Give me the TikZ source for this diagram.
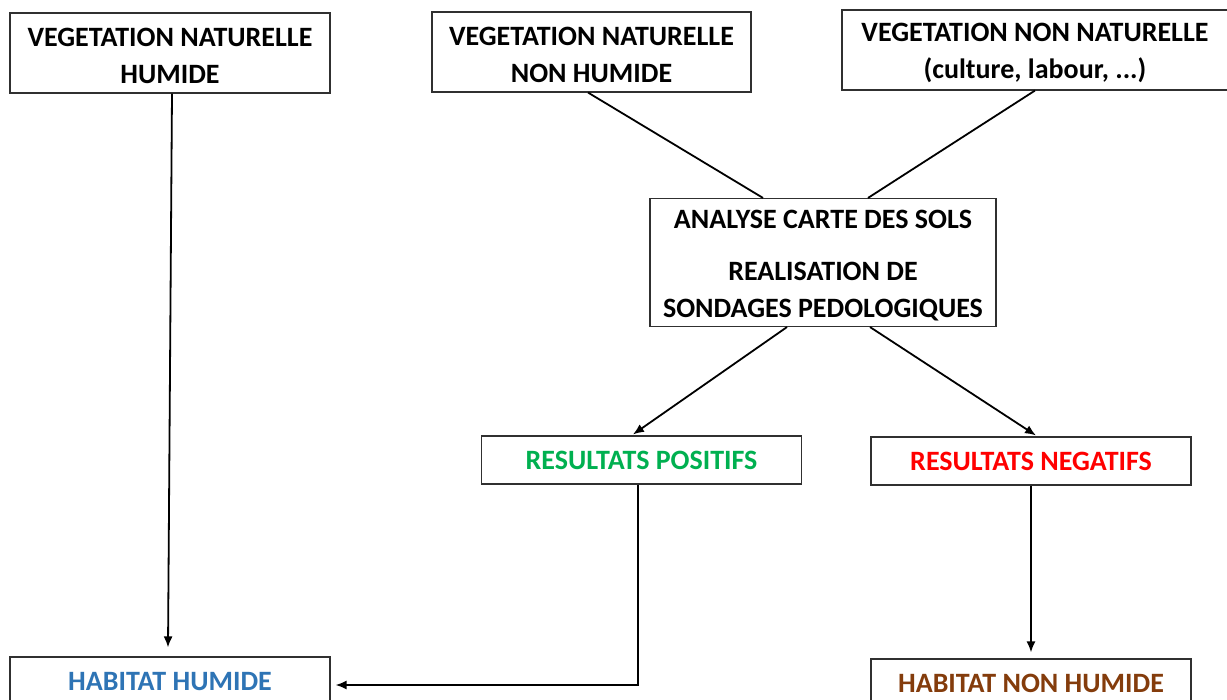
\documentclass[tikz,border=0pt]{standalone}
\usepackage{fontspec}
\setmainfont{Carlito}
\usetikzlibrary{arrows.meta}
\definecolor{cgreen}{HTML}{00B050}
\definecolor{cred}{HTML}{FF0000}
\definecolor{cblue}{HTML}{2E74B5}
\definecolor{cbrown}{HTML}{843C0C}
\definecolor{cborder}{HTML}{303030}
\newcommand{\topstrut}{\rule{0pt}{25pt}}
\begin{document}
\begin{tikzpicture}[x=1pt,y=-1pt,
  box/.style={draw=cborder, line width=1.1pt, inner sep=0pt, align=center,
    font=\fontsize{28}{37}\selectfont\bfseries},
  conn/.style={line width=1.8pt, black},
  arr/.style={conn, -{Latex[length=11pt,width=9pt]}}]
\useasboundingbox[fill=white] (0,0) rectangle (1227,700);
% top row
\node[box, minimum width=320pt, minimum height=80pt] (A) at (170,53)
  {\topstrut VEGETATION NATURELLE\\HUMIDE};
\node[box, minimum width=319pt, minimum height=80pt] (B) at (591.5,52)
  {\topstrut VEGETATION NATURELLE\\NON HUMIDE};
\node[box, minimum width=386pt, minimum height=80pt] (C) at (1035,50)
  {\topstrut VEGETATION NON NATURELLE\\(culture, labour, ...)};
% middle
\node[box, minimum width=346pt, minimum height=128pt] (D) at (823,262.5)
  {\topstrut ANALYSE CARTE DES SOLS\\[15pt]REALISATION DE\\SONDAGES PEDOLOGIQUES};
\node[box, minimum width=320pt, minimum height=48pt, text=cgreen] (E) at (641.5,460)
  {RESULTATS POSITIFS};
\node[box, minimum width=320pt, minimum height=48pt, text=cred] (F) at (1031,461)
  {RESULTATS NEGATIFS};
% bottom
\node[box, minimum width=320pt, minimum height=50pt, text=cblue] (G) at (170,682)
  {HABITAT HUMIDE};
\node[box, minimum width=320pt, minimum height=48pt, text=cbrown] (H) at (1031,683)
  {HABITAT NON HUMIDE};
% connectors
\draw[conn] ([xshift=-3.5pt]B.south) -- ([xshift=-60pt]D.north);
\draw[conn] (C.south) -- ([xshift=45pt]D.north);
\draw[arr] ([xshift=-36pt]D.south) -- ([xshift=-8.5pt,yshift=1pt]E.north);
\draw[arr] ([xshift=47pt]D.south) -- ([xshift=5pt,yshift=1pt]F.north);
\draw[arr] ([xshift=2pt]A.south) -- ([xshift=-2pt,yshift=9pt]G.north);
\draw[arr] ([xshift=-3.5pt]E.south) |- ([xshift=5pt,yshift=-3pt]G.east);
\draw[arr] (F.south) -- ([yshift=6pt]H.north);
\end{tikzpicture}
\end{document}
